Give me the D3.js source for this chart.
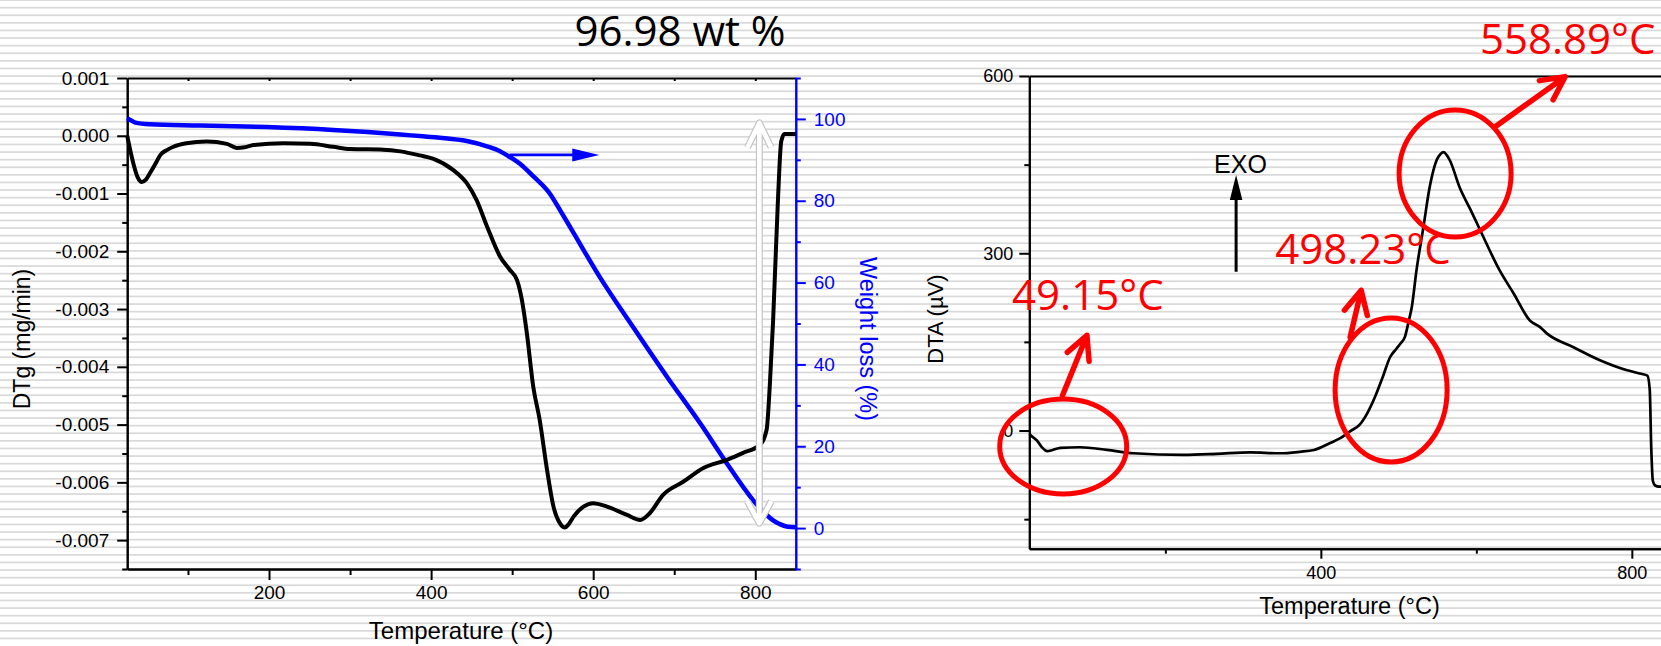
<!DOCTYPE html>
<html>
<head>
<meta charset="utf-8">
<script src="https://cdn.jsdelivr.net/npm/d3@7"></script>
<style>
body { margin: 0; background: #fff; }
svg text { font-family: "Liberation Sans", Arial, sans-serif; }
</style>
</head>
<body>
<svg id="chart" width="1661" height="646"></svg>
<script>
// DTg curve, temperature (°C) and rate (mg/min)
var dtgTemp = [25, 28, 33, 38, 43, 48, 53, 60, 66, 75, 82, 98, 123, 148, 160, 170, 181, 218, 251, 279,
    300, 341, 362, 386, 403, 427, 444, 456, 469, 485, 497, 506, 512, 518, 526, 534, 543, 551, 559, 565,
    570, 576, 588, 600, 617, 641, 658, 670, 686, 711, 736, 765, 785, 806, 814, 818, 822, 828, 832, 836, 850];
var dtgRate = [0, -0.0002, -0.0005, -0.00072, -0.0008, -0.00076, -0.00065, -0.00048, -0.00033, -0.00024,
    -0.00019, -0.00013, -0.0001, -0.00014, -0.00021, -0.0002, -0.00016, -0.00013, -0.00014, -0.00019,
    -0.00023, -0.00024, -0.00027, -0.00034, -0.0004, -0.00059, -0.00082, -0.00111, -0.00157, -0.00209,
    -0.00232, -0.0025, -0.00284, -0.0034, -0.00434, -0.00492, -0.00578, -0.00642, -0.00671, -0.00678,
    -0.00672, -0.00659, -0.00642, -0.00636, -0.00642, -0.00656, -0.00665, -0.00653, -0.00622, -0.00599,
    -0.00575, -0.00561, -0.00549, -0.00535, -0.00509, -0.0043, -0.0032, -0.0011, -0.0001, 0.00003, 0.00003];

// TG curve, temperature (°C) and weight (%)
var tgTemp = [25, 30, 35, 53, 115, 197, 279, 362, 386, 411, 444, 469, 485, 493, 510, 526, 547, 560, 575, 608,
    649, 691, 732, 765, 797, 806, 814, 822, 830, 840, 850];
var tgWeight = [100.2, 99.6, 99.1, 98.7, 98.4, 98.0, 97.3, 96.2, 95.8, 95.4, 94.6, 93.3, 92.1, 91.2, 89.0, 86.0,
    81.6, 77.4, 72.4, 61.4, 49.2, 37.0, 25.6, 15.8, 6.9, 4.8, 3.2, 1.9, 1.0, 0.3, 0.2];

// DTA curve, temperature (°C) and signal (µV)
var dtaTemp = [25, 27, 35, 41, 48, 55, 65, 90, 125, 159, 223, 266, 309, 348, 373, 391, 412, 425, 438, 450,
    460, 470, 480, 489, 497, 503, 508, 513, 517, 523, 532, 540, 549, 554, 558, 562, 566, 579, 592, 605,
    630, 648, 669, 682, 691, 725, 759, 794, 812, 820, 823, 825, 827, 830, 835, 850];
var dtaSignal = [-6, -8.5, -17, -28, -35, -33, -29.3, -28.3, -32.7, -38.5, -41.2, -39.5, -37, -38.5, -36, -33,
    -21, -13, -1, 10, 30, 58, 92, 124, 138, 148, 158, 185, 209, 271, 345, 412, 458, 468, 471, 466, 457,
    410, 375, 339, 271, 232, 186, 175, 164, 141, 119, 102, 96, 93, 70, -30, -85, -93, -95, -95];

// ticks
var dtgTicks = [0.001, 0, -0.001, -0.002, -0.003, -0.004, -0.005, -0.006, -0.007];
var dtgMinor = [0.0005, -0.0005, -0.0015, -0.0025, -0.0035, -0.0045, -0.0055, -0.0065, -0.0075];
var weightTicks = [0, 20, 40, 60, 80, 100];
var weightMinor = [-10, 10, 30, 50, 70, 90, 110];
var tempTicksLeft = [200, 400, 600, 800];
var tempMinorLeft = [100, 300, 500, 700];
var tempTicksRight = [400, 800];
var tempMinorRight = [200, 600];
var dtaTicks = [0, 300, 600];
var dtaMinor = [-150, 150, 450];

// peak labels (°C)
var peakLabels = ["49.15°C", "498.23°C", "558.89°C"];

var svg = d3.select("#chart");

// striped background
svg.append("g").selectAll("rect")
    .data(d3.range(0, 646, 7.6))
  .enter().append("rect")
    .attr("x", 0).attr("width", 1661)
    .attr("y", function(d) { return d - 0.8; })
    .attr("height", 1.7)
    .attr("fill", "#d9d9d9");

// ---------- left chart ----------
var xL = d3.scaleLinear().domain([25, 850]).range([127.2, 795.8]);
var yDtg = d3.scaleLinear().domain([-0.0075, 0.001]).range([569, 78]);
var yWt = d3.scaleLinear().domain([-10, 110]).range([569, 78]);

function styleAxis(g, color, size) {
    g.attr("font-family", "Liberation Sans, Arial, sans-serif").attr("font-size", size);
    g.select(".domain").attr("stroke", color).attr("stroke-width", 2);
    g.selectAll(".tick line").attr("stroke", color).attr("stroke-width", 2);
    g.selectAll(".tick text").attr("fill", color);
}

var left = svg.append("g");

left.append("g")
    .attr("transform", "translate(0,78)")
    .call(d3.axisTop(xL).tickValues(d3.range(100, 900, 100)).tickSize(-3).tickSizeOuter(0).tickFormat(""))
    .call(styleAxis, "#000", 19);

left.append("g")
    .attr("transform", "translate(0,569)")
    .call(d3.axisBottom(xL).tickValues(tempMinorLeft).tickSize(6).tickSizeOuter(0).tickFormat(""))
    .call(styleAxis, "#000", 19);
left.append("g")
    .attr("transform", "translate(0,569)")
    .call(d3.axisBottom(xL).tickValues(tempTicksLeft).tickSize(11).tickPadding(6).tickSizeOuter(0))
    .call(styleAxis, "#000", 19);

left.append("g")
    .attr("transform", "translate(" + xL(25) + ",0)")
    .call(d3.axisLeft(yDtg).tickValues(dtgMinor).tickSize(5).tickSizeOuter(0).tickFormat(""))
    .call(styleAxis, "#000", 19);
left.append("g")
    .attr("transform", "translate(" + xL(25) + ",0)")
    .call(d3.axisLeft(yDtg).tickValues(dtgTicks).tickSize(10).tickPadding(8).tickSizeOuter(0)
            .tickFormat(function(d) { return d.toFixed(3); }))
    .call(styleAxis, "#000", 19);

left.append("g")
    .attr("transform", "translate(" + xL(850) + ",0)")
    .call(d3.axisRight(yWt).tickValues(weightMinor).tickSize(5).tickSizeOuter(0).tickFormat(""))
    .call(styleAxis, "#0000ff", 19);
left.append("g")
    .attr("transform", "translate(" + xL(850) + ",0)")
    .call(d3.axisRight(yWt).tickValues(weightTicks).tickSize(10).tickPadding(8).tickSizeOuter(0))
    .call(styleAxis, "#0000ff", 19);

left.append("text")
    .attr("transform", "translate(30,339) rotate(-90)")
    .attr("text-anchor", "middle")
    .style("font-size", "23px")
    .text("DTg (mg/min)");

left.append("text")
    .attr("x", 461).attr("y", 639)
    .attr("text-anchor", "middle")
    .style("font-size", "24px")
    .text("Temperature (°C)");

left.append("text")
    .attr("transform", "translate(860,339) rotate(90)")
    .attr("text-anchor", "middle")
    .attr("fill", "#0000ff")
    .style("font-size", "23.5px")
    .text("Weight loss (%)");

left.append("text")
    .attr("x", 680).attr("y", 46)
    .attr("text-anchor", "middle")
    .style("font-family", "'Open Sans', sans-serif")
    .style("font-size", "42px")
    .text("96.98 wt %");

var tgLine = d3.line()
    .x(function(d, i) { return xL(tgTemp[i]); })
    .y(function(d) { return yWt(d); })
    .curve(d3.curveMonotoneX);
left.append("path")
    .attr("d", tgLine(tgWeight))
    .attr("fill", "none").attr("stroke", "#0000ff")
    .attr("stroke-width", 4.5).attr("stroke-linejoin", "round");

var dtgLine = d3.line()
    .x(function(d, i) { return xL(dtgTemp[i]); })
    .y(function(d) { return yDtg(d); })
    .curve(d3.curveMonotoneX);
left.append("path")
    .attr("d", dtgLine(dtgRate))
    .attr("fill", "none").attr("stroke", "#000")
    .attr("stroke-width", 4).attr("stroke-linejoin", "round");

function headPoints(x1, y1, x2, y2, len, half) {
    var a = Math.atan2(y2 - y1, x2 - x1);
    return [[x2 - len * Math.cos(a - half), y2 - len * Math.sin(a - half)],
            [x2 - len * Math.cos(a + half), y2 - len * Math.sin(a + half)]];
}

// blue arrow pointing to the weight axis
var bx1 = xL(497), bx2 = xL(607.5), by = yWt(91.2);
left.append("line")
    .attr("x1", bx1).attr("x2", bx2 - 20).attr("y1", by).attr("y2", by)
    .attr("stroke", "#0000ff").attr("stroke-width", 2.6);
left.append("path")
    .attr("d", "M" + bx2 + "," + by + "L" + (bx2 - 27) + "," + (by - 6.5) + "L" + (bx2 - 27) + "," + (by + 6.5) + "Z")
    .attr("fill", "#0000ff");

// white double arrow for the total loss
var wx = xL(805), wTop = yWt(99), wBot = yWt(1.2);
var hTop = headPoints(wx, wBot, wx, wTop, 27, 0.45),
    hBot = headPoints(wx, wTop, wx, wBot, 25, 0.5);
var wPath = "M" + wx + "," + wTop + "L" + wx + "," + wBot +
    "M" + hTop[0] + "L" + wx + "," + wTop + "L" + hTop[1] +
    "M" + hBot[0] + "L" + wx + "," + wBot + "L" + hBot[1];
left.append("path").attr("d", wPath).attr("fill", "none")
    .attr("stroke", "#c4c4c4").attr("stroke-width", 7).attr("stroke-linejoin", "round");
left.append("path").attr("d", wPath).attr("fill", "none")
    .attr("stroke", "#fff").attr("stroke-width", 4.6).attr("stroke-linejoin", "round");

// ---------- right chart ----------
var xR = d3.scaleLinear().domain([25, 850]).range([1029.3, 1670.7]);
var yR = d3.scaleLinear().domain([-200, 600]).range([548.7, 76]);

var right = svg.append("g");

right.append("g")
    .attr("transform", "translate(0,76)")
    .call(d3.axisTop(xR).tickValues([]).tickSizeOuter(0))
    .call(styleAxis, "#000", 18);

right.append("g")
    .attr("transform", "translate(0,548.7)")
    .call(d3.axisBottom(xR).tickValues(tempMinorRight).tickSize(5).tickSizeOuter(0).tickFormat(""))
    .call(styleAxis, "#000", 18);
right.append("g")
    .attr("transform", "translate(0,548.7)")
    .call(d3.axisBottom(xR).tickValues(tempTicksRight).tickSize(10).tickPadding(8).tickSizeOuter(0))
    .call(styleAxis, "#000", 18);

right.append("g")
    .attr("transform", "translate(" + xR(25) + ",0)")
    .call(d3.axisLeft(yR).tickValues(dtaMinor).tickSize(5).tickSizeOuter(0).tickFormat(""))
    .call(styleAxis, "#000", 18);
right.append("g")
    .attr("transform", "translate(" + xR(25) + ",0)")
    .call(d3.axisLeft(yR).tickValues(dtaTicks).tickSize(10).tickPadding(6).tickSizeOuter(0))
    .call(styleAxis, "#000", 18);

right.append("text")
    .attr("transform", "translate(942.5,319) rotate(-90)")
    .attr("text-anchor", "middle")
    .style("font-size", "22px")
    .text("DTA (µV)");

right.append("text")
    .attr("x", 1349.5).attr("y", 613.8)
    .attr("text-anchor", "middle")
    .style("font-size", "23.5px")
    .text("Temperature (°C)");

var dtaLine = d3.line()
    .x(function(d, i) { return xR(dtaTemp[i]); })
    .y(function(d) { return yR(d); })
    .curve(d3.curveMonotoneX);
right.append("path")
    .attr("d", dtaLine(dtaSignal))
    .attr("fill", "none").attr("stroke", "#000")
    .attr("stroke-width", 2.7).attr("stroke-linejoin", "round");

// EXO arrow
var ex = xR(291), eBot = yR(268.7), eTip = yR(432.4);
right.append("line")
    .attr("x1", ex).attr("x2", ex).attr("y1", eBot).attr("y2", eTip + 20)
    .attr("stroke", "#000").attr("stroke-width", 3);
right.append("path")
    .attr("d", "M" + ex + "," + eTip + "L" + (ex - 6.3) + "," + (eTip + 25) + "L" + (ex + 6.3) + "," + (eTip + 25) + "Z")
    .attr("fill", "#000");
right.append("text")
    .attr("x", xR(296.6)).attr("y", yR(435))
    .attr("text-anchor", "middle")
    .style("font-size", "25px")
    .text("EXO");

// red circles, arrows and peak temperatures
var rings = [
    {t: 68.6, v: -27, rx: 63.5, ry: 47.5},
    {t: 490.4, v: 68.6, rx: 56, ry: 72},
    {t: 572.7, v: 435, rx: 56, ry: 63.5}
];
var pointers = [
    {t1: 67.7, v1: 59.3, t2: 99.1, v2: 161},
    {t1: 437.7, v1: 158, t2: 451.9, v2: 237.3},
    {t1: 624.2, v1: 514, t2: 714.2, v2: 598.8}
];
var labelPos = [
    {t: 100.3, v: 204},
    {t: 454.2, v: 281.8},
    {t: 717.6, v: 638}
];

right.selectAll(".ring")
    .data(rings)
  .enter().append("ellipse")
    .attr("class", "ring")
    .attr("cx", function(d) { return xR(d.t); })
    .attr("cy", function(d) { return yR(d.v); })
    .attr("rx", function(d) { return d.rx; })
    .attr("ry", function(d) { return d.ry; })
    .attr("fill", "none").attr("stroke", "#ff0000").attr("stroke-width", 5);

right.selectAll(".pointer")
    .data(pointers)
  .enter().append("path")
    .attr("class", "pointer")
    .attr("d", function(d) {
        var x1 = xR(d.t1), y1 = yR(d.v1), x2 = xR(d.t2), y2 = yR(d.v2);
        var h = headPoints(x1, y1, x2, y2, 26, 0.47);
        return "M" + x1 + "," + y1 + "L" + x2 + "," + y2 + "M" + h[0] + "L" + x2 + "," + y2 + "L" + h[1];
    })
    .attr("fill", "none").attr("stroke", "#ff0000").attr("stroke-width", 5.5)
    .attr("stroke-linejoin", "round").attr("stroke-linecap", "round");

right.selectAll(".peak")
    .data(peakLabels)
  .enter().append("text")
    .attr("class", "peak")
    .attr("x", function(d, i) { return xR(labelPos[i].t); })
    .attr("y", function(d, i) { return yR(labelPos[i].v); })
    .attr("text-anchor", "middle")
    .attr("fill", "#ff0000")
    .style("font-family", "'Open Sans', sans-serif")
    .style("font-size", "42px")
    .text(function(d) { return d; });
</script>
</body>
</html>
